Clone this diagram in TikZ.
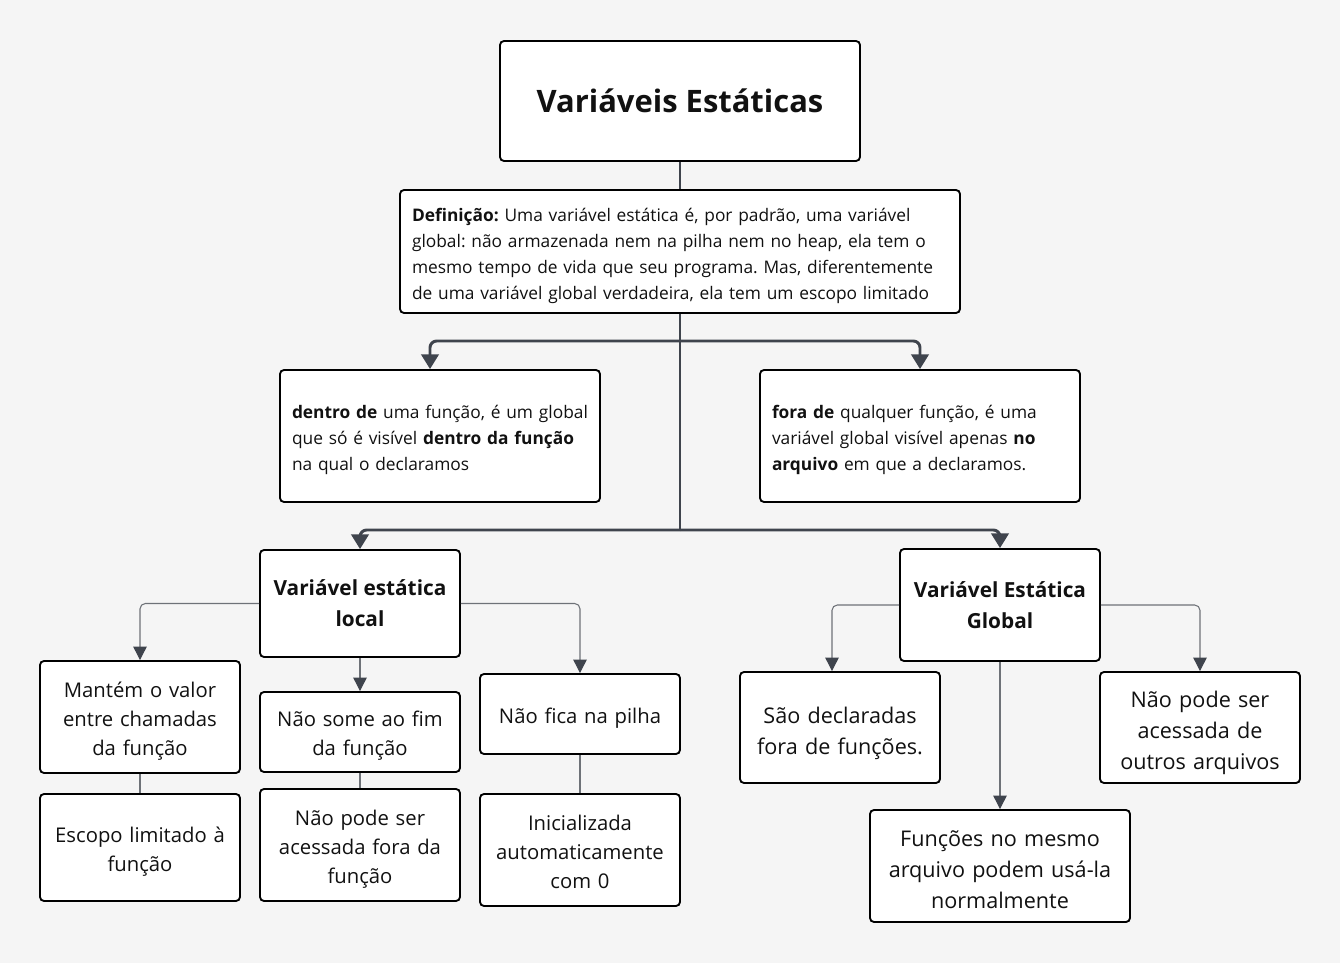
\documentclass[tikz,border=0pt]{standalone}
\usepackage{fontspec}
\setmainfont{Open Sans}
\usetikzlibrary{arrows.meta}
\definecolor{bg}{HTML}{F5F5F5}
\definecolor{linecol}{HTML}{3F444D}
\definecolor{thincol}{HTML}{6E7278}
\definecolor{txt}{HTML}{111111}
\frenchspacing

\begin{document}
\begin{tikzpicture}[x=0.75pt,y=-0.75pt,
    box/.style={draw=black,line width=1.4pt,rounded corners=3pt,fill=white,inner sep=0pt,text=txt,align=center},
    mainline/.style={draw=linecol,line width=2.2pt,rounded corners=5pt},
    thinline/.style={draw=thincol,line width=0.8pt,rounded corners=4pt},
    tip/.style={-{Triangle[width=13pt,length=11pt,color=linecol]}},
    smalltip/.style={-{Triangle[width=10pt,length=10pt,color=linecol]}},
    small/.style={text width=140pt,font=\fontsize{15.2}{21.75}\selectfont,execute at begin node={\rule{0pt}{1.2em}},execute at end node={\rule[-0.3em]{0pt}{0.3em}}},
    big/.style={text width=140pt,font=\fontsize{16.2}{23.25}\selectfont,execute at begin node={\rule{0pt}{1.33em}},execute at end node={\rule[-0.3em]{0pt}{0.3em}}},
    para/.style={text width=222pt,align=left,font=\fontsize{13}{19.5}\selectfont,execute at begin node={\rule{0pt}{1.25em}}}]
            \fill[bg] (0,0) rectangle (1340,963);
            \node (title) at (680,101) [box,minimum width=270pt,minimum height=90pt,font=\fontsize{23.2}{26}\selectfont\bfseries] {Variáveis Estáticas};
            \node (def) at (680,251.5) [box,para,minimum width=420pt,minimum height=92.25pt,text width=402pt] {\textbf{Definição:} Uma variável estática é, por padrão, uma variável\\global: não armazenada nem na pilha nem no heap, ela tem o\\mesmo tempo de vida que seu programa. Mas, diferentemente\\de uma variável global verdadeira, ela tem um escopo limitado};
            \node (dentro) at (440,436) [box,para,minimum width=240pt,minimum height=99pt] {\textbf{dentro de} uma função, é um global\\que só é visível \textbf{dentro da função}\\na qual o declaramos};
            \node (fora) at (920,436) [box,para,minimum width=240pt,minimum height=99pt] {\textbf{fora de} qualquer função, é uma\\variável global visível apenas \textbf{no}\\\textbf{arquivo} em que a declaramos.};
            \node (local) at (360,603.5) [box,minimum width=150pt,minimum height=80.25pt,font=\fontsize{15.6}{23.25}\selectfont\bfseries] {Variável estática\\local};
            \node (global) at (1000,605) [box,minimum width=150pt,minimum height=84pt,font=\fontsize{15.6}{23.25}\selectfont\bfseries] {Variável Estática\\Global};
            \node (mantem) at (140,717) [box,small,minimum width=150pt,minimum height=84pt] {Mantém o valor\\entre chamadas\\da função};
            \node (escopo) at (140,847.5) [box,small,minimum width=150pt,minimum height=80.25pt] {Escopo limitado à\\função};
            \node (naosome) at (360,732) [box,small,minimum width=150pt,minimum height=60pt] {Não some ao fim\\da função};
            \node (naopodel) at (360,845) [box,small,minimum width=150pt,minimum height=84pt] {Não pode ser\\acessada fora da\\função};
            \node (naofica) at (580,714) [box,small,minimum width=150pt,minimum height=60pt] {Não fica na pilha};
            \node (inic) at (580,850) [box,small,minimum width=150pt,minimum height=84pt] {Inicializada\\automaticamente\\com 0};
            \node (saodecl) at (840,727.5) [box,big,minimum width=150pt,minimum height=83.25pt] {São declaradas\\fora de funções.};
            \node (funcoes) at (1000,866) [box,big,minimum width=195pt,minimum height=84pt,text width=185pt] {Funções no mesmo\\arquivo podem usá-la\\normalmente};
            \node (naopodeg) at (1200,727.5) [box,big,minimum width=150pt,minimum height=83.25pt] {Não pode ser\\acessada de\\outros arquivos};
            \coordinate (j1) at (680,341);
            \coordinate (j2) at (680,530);
            % main branches
            \draw[mainline] (title) -- (def) (def.south) -- (j2);
            \draw[mainline,tip] (j1) -| ([xshift=-7.5pt]dentro.north);
            \draw[mainline,tip] (j1) -| (fora.north);
            \draw[mainline,tip] (j2) -| (local.north);
            \draw[mainline,tip] (j2) -| (global.north);
            % local
            \draw[thinline,smalltip] (local.west) -| (mantem.north);
            \draw[thinline,smalltip] (local.south) -- (naosome.north);
            \draw[thinline,smalltip] (local.east) -| (naofica.north);
            \draw[thinline] (mantem) -- (escopo) (naosome) -- (naopodel) (naofica) -- (inic);
            % global
            \draw[thinline,smalltip] (global.west) -| ([xshift=-6pt]saodecl.north);
            \draw[thinline,smalltip] (global.south) -- (funcoes.north);
            \draw[thinline,smalltip] (global.east) -| (naopodeg.north);
        \end{tikzpicture}
\end{document}
